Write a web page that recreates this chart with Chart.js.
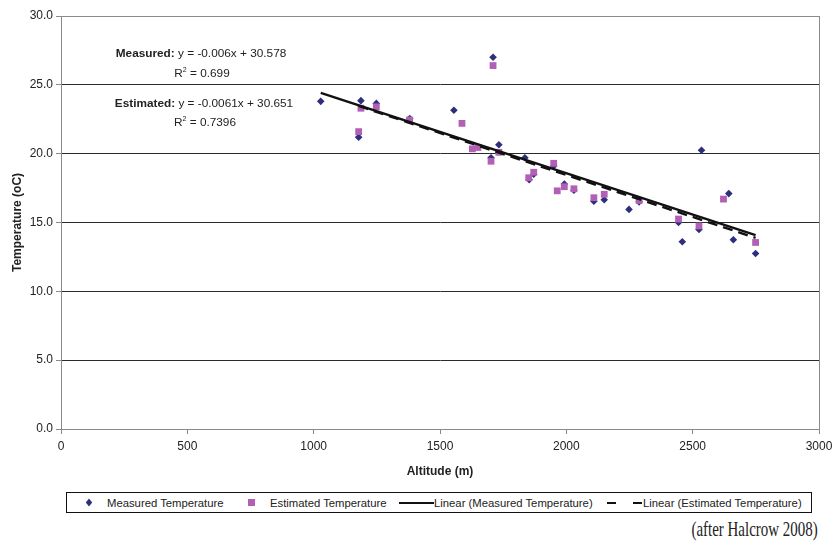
<!DOCTYPE html>
<html>
<head>
<meta charset="utf-8">
<script src="https://cdn.jsdelivr.net/npm/chart.js@4/dist/chart.umd.min.js"></script>
<style>
  html, body { margin: 0; padding: 0; background: #fff; }
  body { width: 834px; height: 548px; position: relative; overflow: hidden;
         font-family: "Liberation Sans", Arial, sans-serif; color: #222; }
  #c { position: absolute; left: 0; top: 0; }
  .ann { position: absolute; transform: translate(-50%, -50%); white-space: nowrap; font-size: 11.8px; color: #222; }
  .ann sup { font-size: 7px; vertical-align: 5px; line-height: 0; }
  #legend { position: absolute; left: 66px; top: 492px; width: 746px; height: 21px; border: 1px solid #111; box-sizing: border-box; }
  .lg { position: absolute; top: 0; height: 100%; display: flex; align-items: center; white-space: nowrap; font-size: 11.3px; color: #222; }
  #caption { position: absolute; right: 16px; top: 516px; font-family: "Liberation Serif", "Times New Roman", serif;
             font-size: 22px; line-height: 26px; color: #222; transform: scaleX(0.68); transform-origin: right center; white-space: nowrap; }
</style>
</head>
<body>
<canvas id="c" width="834" height="485"></canvas>
<div id="ann"></div>
<div id="legend"></div>
<div id="caption">(after Halcrow 2008)</div>
<script>
// ---- data ----
const measuredAltitude = [1028, 1178, 1187, 1248, 1380, 1555, 1702, 1710, 1733, 1836, 1853, 1871, 1950, 1992, 2030, 2109, 2150, 2248, 2288, 2444, 2459, 2525, 2535, 2643, 2661, 2749];
const measuredTemperature = [23.8, 21.2, 23.85, 23.65, 22.55, 23.15, 19.7, 27.0, 20.65, 19.7, 18.1, 18.5, 19.1, 17.8, 17.35, 16.55, 16.65, 15.95, 16.5, 15.0, 13.6, 14.5, 20.25, 17.1, 13.75, 12.75];
const estimatedAltitude = [1178, 1187, 1248, 1380, 1587, 1628, 1650, 1702, 1710, 1733, 1851, 1871, 1950, 1964, 1992, 2030, 2109, 2150, 2288, 2444, 2525, 2622, 2749];
const estimatedTemperature = [21.6, 23.3, 23.4, 22.45, 22.2, 20.35, 20.45, 19.45, 26.4, 20.1, 18.25, 18.65, 19.3, 17.3, 17.6, 17.45, 16.8, 17.05, 16.6, 15.25, 14.75, 16.7, 13.55];
const seriesNames = ["Measured Temperature", "Estimated Temperature"];
const trendSlopes = [-0.006, -0.0061];
const trendIntercepts = [30.578, 30.651];
const trendR2 = ["0.699", "0.7396"];
const annotationLabels = ["Measured:", "Estimated:"];
const xTickValues = [0, 500, 1000, 1500, 2000, 2500, 3000];
const yTickValues = [0, 5, 10, 15, 20, 25, 30];
const xAxisTitle = "Altitude (m)";
const yAxisTitle = "Temperature (oC)";

// ---- styles ----
const measuredColor = "#2e2f7c";
const estimatedColor = "#b25fb5";
const lineColor = "#111";
const axisGray = "#8a8a8a";
const textColor = "#222";

const pts = (xs, ys) => xs.map((x, i) => ({ x: x, y: ys[i] }));
function trendPoints(xs, k) {
  const lo = Math.min(...xs), hi = Math.max(...xs);
  return [lo, hi].map(x => ({ x: x, y: trendSlopes[k] * x + trendIntercepts[k] }));
}

const plotBorder = {
  id: "plotBorder",
  afterDraw(chart) {
    const a = chart.chartArea, ctx = chart.ctx;
    ctx.save();
    ctx.strokeStyle = axisGray; ctx.lineWidth = 1;
    ctx.strokeRect(Math.round(a.left) + 0.5, Math.round(a.top) + 0.5, Math.round(a.right - a.left), Math.round(a.bottom - a.top));
    ctx.restore();
  }
};

const font = { family: '"Liberation Sans", Arial, sans-serif', size: 12 };

new Chart(document.getElementById("c"), {
  type: "scatter",
  data: {
    datasets: [
      { label: "Linear (" + seriesNames[0] + ")", data: trendPoints(measuredAltitude, 0), showLine: true,
        borderColor: lineColor, borderWidth: 2.4, pointRadius: 0, order: 0 },
      { label: "Linear (" + seriesNames[1] + ")", data: trendPoints(estimatedAltitude, 1), showLine: true,
        borderColor: lineColor, borderWidth: 2.4, borderDash: [10, 6], pointRadius: 0, order: 1 },
      { label: seriesNames[1], data: pts(estimatedAltitude, estimatedTemperature), pointStyle: "rect",
        pointRadius: 4.8, backgroundColor: estimatedColor, borderColor: estimatedColor, borderWidth: 0, order: 2 },
      { label: seriesNames[0], data: pts(measuredAltitude, measuredTemperature), pointStyle: "rectRot",
        pointRadius: 3.8, backgroundColor: measuredColor, borderColor: measuredColor, borderWidth: 0, order: 3 }
    ]
  },
  options: {
    responsive: false,
    animation: false,
    devicePixelRatio: 1,
    layout: { padding: { left: 0, top: 16, right: 15, bottom: 0 } },
    plugins: { legend: { display: false }, tooltip: { enabled: false } },
    scales: {
      x: {
        type: "linear", min: 0, max: 3000,
        afterBuildTicks: s => { s.ticks = xTickValues.map(v => ({ value: v })); },
        afterFit: s => { s.height = 56; s.paddingLeft = 0; s.paddingRight = 0; },
        grid: { drawOnChartArea: false, drawTicks: true, tickLength: 5, tickColor: axisGray },
        border: { color: axisGray, width: 1 },
        ticks: { font: font, color: textColor, padding: 5, maxRotation: 0, callback: v => String(v) },
        title: { display: true, text: xAxisTitle, color: textColor, font: Object.assign({}, font, { weight: "bold" }), padding: { top: 0, bottom: 6 } }
      },
      y: {
        type: "linear", min: 0, max: 30,
        afterBuildTicks: s => { s.ticks = yTickValues.map(v => ({ value: v })); },
        afterFit: s => { s.width = 61; s.paddingTop = 0; s.paddingBottom = 0; },
        grid: { color: "#2a2a2a", lineWidth: 1, drawTicks: true, tickLength: 5, tickColor: axisGray },
        border: { color: axisGray, width: 1 },
        ticks: { font: font, color: textColor, padding: 3, callback: v => Number(v).toFixed(1) },
        title: { display: true, text: yAxisTitle, color: textColor, font: Object.assign({}, font, { weight: "bold" }), padding: { top: 10, bottom: 0 } }
      }
    }
  },
  plugins: [plotBorder]
});

// ---- trend equation annotations (real text) ----
const annPos = [[201, 53], [202, 73], [204, 103], [205, 122]];
const annHost = document.getElementById("ann");
function addAnn(html, p) {
  const d = document.createElement("div");
  d.className = "ann"; d.style.left = p[0] + "px"; d.style.top = p[1] + "px";
  d.innerHTML = html; annHost.appendChild(d);
}
for (let k = 0; k < 2; k++) {
  addAnn("<b>" + annotationLabels[k] + "</b> y = " + trendSlopes[k] + "x + " + trendIntercepts[k], annPos[2 * k]);
  addAnn("R<sup>2</sup> = " + trendR2[k], annPos[2 * k + 1]);
}

// ---- legend (real text) ----
const legend = document.getElementById("legend");
const L0 = 66;
function item(left, inner) {
  const d = document.createElement("div");
  d.className = "lg"; d.style.left = (left - L0) + "px"; d.innerHTML = inner; legend.appendChild(d);
}
item(84, '<svg width="8" height="9"><polygon points="4,0.5 7.2,4.5 4,8.5 0.8,4.5" fill="' + measuredColor + '"/></svg>');
item(106, seriesNames[0]);
item(247, '<svg width="7" height="7"><rect x="0" y="0" width="7" height="7" fill="' + estimatedColor + '"/></svg>');
item(269, seriesNames[1]);
item(398, '<svg width="35" height="4"><line x1="0" y1="2" x2="35" y2="2" stroke="' + lineColor + '" stroke-width="2.2"/></svg>');
item(433, "Linear (" + seriesNames[0] + ")");
item(606, '<svg width="35" height="4"><line x1="0" y1="2" x2="35" y2="2" stroke="' + lineColor + '" stroke-width="2.2" stroke-dasharray="9,17"/></svg>');
item(642, "Linear (" + seriesNames[1] + ")");
</script>
</body>
</html>
